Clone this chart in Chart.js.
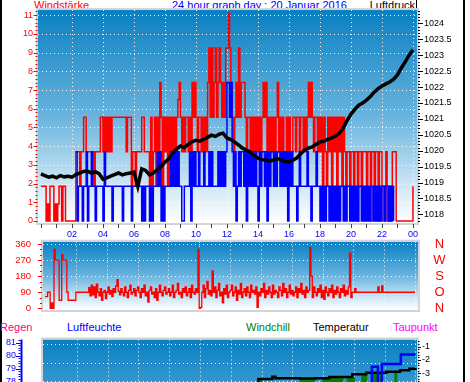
<!DOCTYPE html>
<html lang="de"><head><meta charset="utf-8">
<script src="https://cdn.jsdelivr.net/npm/chart.js@4/dist/chart.umd.js"></script>
<style>
html,body{margin:0;padding:0;background:#fff}
body{position:relative;width:470px;height:382px;overflow:hidden;font-family:"Liberation Sans",Arial,sans-serif}
canvas{position:absolute;left:0}
.t{position:absolute;font-size:11px;line-height:11px;white-space:nowrap}
.bar{position:absolute;background:#000}
</style></head>
<body>
<div class="bar" style="left:0;top:0;width:2px;height:382px"></div>
<div class="bar" style="left:463px;top:0;width:2px;height:382px"></div>
<div class="bar" style="left:416px;top:0;width:1px;height:10px"></div>
<div class="t" style="left:34px;top:0;color:#ff0000">Windstärke</div>
<div class="t" style="left:172px;top:0;color:#0000ff">24 hour graph day : 20 Januar 2016</div>
<div class="t" style="right:55px;top:0;color:#000">Luftdruck</div>
<div class="t" style="left:0;top:322px;color:#ff0080">Regen</div>
<div class="t" style="left:67px;top:322px;color:#0000ff">Luftfeuchte</div>
<div class="t" style="left:246px;top:322px;color:#008000">Windchill</div>
<div class="t" style="left:313px;top:322px;color:#000">Temperatur</div>
<div class="t" style="left:393px;top:322px;color:#ff00ff">Taupunkt</div>
<canvas id="c1" width="470" height="250" style="top:0"></canvas>
<canvas id="c2" width="470" height="100" style="top:230px"></canvas>
<canvas id="c3" width="470" height="220" style="top:320px"></canvas>
<script>
// ---------- tick labels ----------
const hourLabels = ['02','04','06','08','10','12','14','16','18','20','22','00'];
const hourLabelAt = [2,4,6,8,10,12,14,16,18,20,22,24];
const hourTicks = [0,1,2,3,4,5,6,7,8,9,10,11,12,13,14,15,16,17,18,19,20,21,22,23,24];
const windTicks = [0,1,2,3,4,5,6,7,8,9,10,11];
const pressureTicks = [1018,1018.5,1019,1019.5,1020,1020.5,1021,1021.5,1022,1022.5,1023,1023.5,1024];
const pressureLabels = ['1018','1018.5','1019','1019.5','1020','1020.5','1021','1021.5','1022','1022.5','1023','1023.5','1024'];
const dirTicks = [0,90,180,270,360];
const compassLabels = ['N','O','S','W','N'];
const humTicks = [78,79,80,81];
const tempTicks = [-3,-2,-1];

// ---------- series (5-minute samples, last value = 24:00) ----------
const windGust = [
1.85,1.85,1.85,1.85,0,0.9,0,1.85,1.85,1.85,0,0.9,
0,0.9,1.85,1.85,0,1.85,1.85,0,0,0,0,0,
0,0,0,3.7,3.7,3.7,1.85,3.7,3.7,5.55,5.55,3.7,
3.7,3.7,3.7,3.7,3.7,1.85,3.7,3.7,3.7,3.7,5.55,5.55,
3.7,5.55,3.7,5.55,3.7,5.55,3.7,5.55,5.55,5.55,5.55,5.55,
5.55,5.55,5.55,5.55,5.55,5.55,3.7,5.55,5.55,5.55,1.85,3.7,
3.7,1.85,3.7,3.7,3.7,3.7,5.55,5.55,3.7,3.7,3.7,3.7,
1.85,5.55,1.85,3.7,5.55,1.85,5.55,3.7,7.4,5.55,1.85,5.55,
3.7,5.55,1.85,5.55,3.7,5.55,1.85,5.55,3.7,5.55,6.5,7.4,
5.55,3.7,5.55,3.7,5.55,5.55,3.7,5.55,3.7,7.4,5.55,7.4,
5.55,3.7,5.55,5.55,3.7,5.55,3.7,5.55,3.7,7.4,9.25,5.55,
9.25,5.55,7.4,9.25,5.55,7.4,9.25,7.4,5.55,7.4,5.55,9.25,
9.25,11.1,9.25,7.4,5.55,3.7,5.55,7.4,5.55,9.25,5.55,7.4,
7.4,7.4,5.55,3.7,5.55,5.55,3.7,5.55,3.7,5.55,3.7,5.55,
3.7,5.55,3.7,5.55,7.4,5.55,7.4,3.7,5.55,3.7,5.55,3.7,
5.55,3.7,5.55,7.4,3.7,5.55,3.7,5.55,3.7,3.7,5.55,3.7,
5.55,3.7,3.7,5.55,5.55,3.7,5.55,5.55,3.7,5.55,5.55,3.7,
5.55,3.7,5.55,7.4,5.55,7.4,5.55,3.7,5.55,5.55,3.7,5.55,
3.7,5.55,1.85,5.55,3.7,1.85,5.55,3.7,5.55,1.85,5.55,3.7,
5.55,1.85,5.55,3.7,5.55,1.85,5.55,3.7,1.85,3.7,3.7,1.85,
3.7,3.7,1.85,3.7,3.7,0,3.7,3.7,1.85,3.7,3.7,3.7,
1.85,3.7,3.7,0,3.7,3.7,1.85,3.7,3.7,0,3.7,3.7,
1.85,0,1.85,3.7,0,1.85,0,1.85,3.7,3.7,3.7,0,
0,0,0,0,0,0,0,0,0,0,0,0,
1.85];

const windAvg = [
null,null,null,null,null,null,null,null,null,null,null,null,
null,null,null,null,null,null,null,null,null,null,null,null,
null,null,null,3.7,0,1.85,1.85,1.85,0,1.85,1.85,3.7,
0,1.85,1.85,3.7,1.85,1.85,0,1.85,1.85,1.85,1.85,1.85,
0,3.7,1.85,1.85,1.85,1.85,1.85,0,1.85,1.85,1.85,1.85,
1.85,1.85,1.85,0,1.85,1.85,1.85,1.85,1.85,1.85,0,1.85,
1.85,1.85,1.85,1.85,1.85,1.85,0,1.85,0,1.85,1.85,1.85,
0,1.85,0,1.85,1.85,1.85,3.7,1.85,3.7,0,1.85,0,
1.85,1.85,1.85,1.85,3.7,1.85,3.7,1.85,3.7,1.85,3.7,1.85,
1.85,0,0,1.85,1.85,1.85,1.85,3.7,0,3.7,1.85,3.7,
1.85,1.85,3.7,1.85,1.85,1.85,3.7,1.85,1.85,1.85,3.7,1.85,
3.7,1.85,1.85,1.85,1.85,3.7,1.85,3.7,1.85,3.7,1.85,3.7,
7.4,7.4,5.55,7.4,3.7,1.85,3.7,0,1.85,3.7,1.85,3.7,
3.7,1.85,3.7,0,3.7,1.85,3.7,1.85,3.7,1.85,3.7,1.85,
0,3.7,1.85,3.7,3.7,1.85,3.7,0,3.7,1.85,3.7,3.7,
1.85,3.7,1.85,3.7,3.7,1.85,3.7,1.85,3.7,1.85,3.7,0,
3.7,1.85,3.7,1.85,1.85,1.85,0,1.85,3.7,1.85,1.85,1.85,
1.85,1.85,3.7,1.85,1.85,0,1.85,1.85,1.85,3.7,1.85,1.85,
0,1.85,0,1.85,0,1.85,1.85,0,1.85,0,1.85,0,
1.85,0,1.85,0,1.85,1.85,0,1.85,0,1.85,1.85,0,
1.85,0,1.85,0,1.85,0,1.85,1.85,0,1.85,0,1.85,
0,1.85,0,1.85,1.85,0,1.85,0,1.85,0,1.85,0,
1.85,1.85,0,1.85,1.85,0,1.85,0,1.85,0,null,null,
null,null,null,null,null,null,null,null,null,null,null,null,
null];

const windDir = [
65,65,90,90,0,30,0,330,270,270,270,45,
45,300,270,270,270,90,45,45,45,45,45,45,
90,90,90,90,90,90,90,90,90,90,115,70,
130,75,120,60,135,90,70,110,45,90,100,55,
90,120,80,100,65,110,90,125,160,95,75,110,
90,70,120,90,60,100,130,80,90,110,70,100,
120,90,60,110,90,130,70,90,35,100,120,80,
90,60,110,45,90,130,90,70,100,120,80,90,
110,70,90,130,60,90,100,140,80,90,60,110,
90,120,70,90,110,60,130,90,80,110,90,330,
0,5,90,130,60,110,150,80,100,70,210,90,
120,60,100,140,70,90,30,110,80,130,60,90,
100,130,70,90,120,45,100,80,140,60,90,110,
70,120,90,60,130,90,100,80,120,5,90,70,
110,90,140,60,100,80,120,90,60,130,80,100,
90,60,120,100,70,140,90,110,60,90,130,80,
100,70,90,120,60,110,90,140,80,100,60,120,
90,100,340,180,60,120,90,70,110,90,130,60,
100,50,120,90,70,110,90,130,60,100,80,120,
90,60,110,90,130,70,100,80,120,310,60,90,
90,110,90,90,90,90,90,90,90,90,90,90,
90,90,90,90,90,90,90,120,90,90,125,90,
90,90,90,90,90,90,90,90,90,90,90,90,
90,90,90,90,90,90,90,90,90,90,90,90,
90];

// 15-minute samples
const pressure = [
1019.27,1019.22,1019.17,1019.2,
1019.15,1019.22,1019.18,1019.2,
1019.17,1019.25,1019.3,1019.35,
1019.36,1019.3,1019.34,1019.28,
1019.11,1019.15,1019.2,1019.25,
1019.3,1019.24,1019.28,1019.3,
1019.33,1018.88,1019.43,1019.38,
1019.24,1019.3,1019.4,1019.5,
1019.64,1019.75,1019.93,1020.05,
1020.15,1020.1,1020.2,1020.28,
1020.33,1020.3,1020.36,1020.42,
1020.49,1020.45,1020.52,1020.55,
1020.4,1020.35,1020.27,1020.18,
1020.08,1020.02,1019.96,1019.85,
1019.77,1019.72,1019.71,1019.68,
1019.71,1019.75,1019.71,1019.66,
1019.64,1019.7,1019.77,1019.9,
1020.02,1020.08,1020.12,1020.2,
1020.27,1020.3,1020.36,1020.4,
1020.46,1020.55,1020.71,1020.95,
1021.15,1021.3,1021.43,1021.5,
1021.59,1021.7,1021.84,1021.95,
1022.03,1022.1,1022.16,1022.25,
1022.38,1022.6,1022.79,1023.0,
1023.17];

// lower panel (irregular sample hours)
const tempHours  = [0,1,2,3,4,5,6,7,8,9,10,11,12,13,13.8,14.7,14.9,16.5,17.5,18.4,19.9,20.8,22.1,23,23.6,24];
const tempValues = [-4.3,-4.4,-4.4,-4.5,-4.5,-4.4,-4.4,-4.3,-4.2,-4.1,-4.0,-3.9,-3.8,-3.75,-3.43,-3.26,-3.38,-3.4,-3.38,-3.28,-3.08,-2.95,-2.88,-2.78,-2.65,-2.6];
const humHours   = [0,2,4,6,8,10,12,14,16,18,20,21.17,21.56,21.82,23.05,24];
const humValues  = [76.9,77.0,77.1,77.0,76.9,77.0,77.2,77.4,77.6,77.7,77.8,79.15,77.9,79.36,80.1,80.1];
const chillHours  = [0,13.9,14.03,16.49,17.47,17.99,19.29,19.55,20.06,20.52,20.84,21.17,21.56,21.69,21.82,22.66,22.79,24];
const chillValues = [-5.2,-3.5,-5.2,-3.45,-5.0,-3.38,-5.1,-3.35,-5.0,-3.15,-5.0,-3.02,-4.9,-3.02,-4.9,-2.95,-4.8,-4.8];
const dewHours  = [0,4,8,12,16,20,24];
const dewValues = [-7.6,-7.8,-7.6,-7.2,-7.0,-6.8,-6.3];

// ---------- helpers ----------
const perHour = (arr, n) => arr.map((v, i) => ({x: i / n, y: v}));
const pairs = (hs, vs) => hs.map((h, i) => ({x: h, y: vs[i]}));
const half = v => Math.round(v) + 0.5;
const TF = '"Liberation Sans", Arial, sans-serif';
const stops = [[0,'#0880c2'],[0.5,'#6ab4de'],[0.85,'#d6ebf7'],[1,'#ffffff']];

function drawAxis(chart, ax) {
  const ctx = chart.ctx, s = chart.scales[ax.scale];
  ctx.save();
  ctx.lineWidth = 1;
  if (ax.line) {
    ctx.strokeStyle = ax.line.color; ctx.lineWidth = ax.line.width;
    ctx.beginPath(); ctx.moveTo(ax.line.x, ax.line.y0); ctx.lineTo(ax.line.x, ax.line.y1); ctx.stroke();
    ctx.lineWidth = 1;
  }
  ctx.strokeStyle = ax.tickColor;
  const vert = ax.side !== 'bottom';
  const dir = ax.side === 'left' ? -1 : 1;
  const tick = (v, len) => {
    const p = half(s.getPixelForValue(v));
    ctx.beginPath();
    if (vert) { ctx.moveTo(ax.at, p); ctx.lineTo(ax.at + dir * len, p); }
    else { ctx.moveTo(p, ax.at); ctx.lineTo(p, ax.at + len); }
    ctx.stroke();
  };
  if (ax.minor) {
    const [from, to, step, len] = ax.minor;
    const n = Math.round((to - from) / step);
    for (let i = 0; i <= n; i++) tick(from + i * step, len);
  }
  (ax.ticks || []).forEach(v => tick(v, ax.majorLen));
  ctx.fillStyle = ax.color;
  ctx.font = ax.font;
  ctx.textBaseline = 'middle';
  ctx.textAlign = ax.align || (vert ? (dir < 0 ? 'right' : 'left') : 'center');
  ax.labels.forEach((t, i) => {
    const p = s.getPixelForValue(ax.labelAt[i]);
    if (vert) ctx.fillText(t, ax.labelX, p); else ctx.fillText(t, p, ax.labelY);
  });
  ctx.restore();
}

const deco = {
  id: 'deco',
  beforeDraw(chart, _a, o) {
    const {ctx, chartArea: a} = chart;
    ctx.save();
    const g = ctx.createLinearGradient(0, a.top, 0, a.bottom);
    o.stops.forEach(([p, c]) => g.addColorStop(p, c));
    ctx.fillStyle = g;
    ctx.fillRect(a.left, a.top, a.right - a.left, a.bottom - a.top);
    ctx.strokeStyle = '#d4d4d4'; ctx.lineWidth = 2;
    ctx.strokeRect(a.left - 1, a.top - 1, a.right - a.left + 2, a.bottom - a.top + 2);
    ctx.strokeStyle = 'rgba(255,255,255,0.95)'; ctx.lineWidth = 1; ctx.setLineDash([1, 3]);
    const sx = chart.scales.x, sy = chart.scales[o.gridAxis];
    ctx.beginPath();
    o.gridX.forEach(h => { const x = half(sx.getPixelForValue(h)); ctx.moveTo(x, a.top); ctx.lineTo(x, a.bottom); });
    o.gridY.forEach(v => { const y = half(sy.getPixelForValue(v)); ctx.moveTo(a.left, y); ctx.lineTo(a.right, y); });
    ctx.stroke();
    ctx.restore();
  },
  afterDraw(chart, _a, o) { (o.axes || []).forEach(ax => drawAxis(chart, ax)); }
};

const base = (padding, scales, decoOpts) => ({
  responsive: false, animation: false, devicePixelRatio: 1, events: [],
  layout: {padding},
  elements: {point: {radius: 0}, line: {tension: 0}},
  scales,
  plugins: {legend: {display: false}, tooltip: {enabled: false}, deco: decoOpts}
});

// ---------- chart 1: wind + pressure ----------
new Chart(document.getElementById('c1'), {
  type: 'line',
  plugins: [deco],
  data: {datasets: [
    {data: perHour(pressure, 4), yAxisID: 'p', borderColor: '#000', borderWidth: 3.5},
    {data: perHour(windAvg, 12), yAxisID: 'w', borderColor: '#0000ff', borderWidth: 1.5, stepped: true, spanGaps: false},
    {data: perHour(windGust, 12), yAxisID: 'w', borderColor: '#ff0000', borderWidth: 1.5, stepped: true}
  ]},
  options: base({left: 38, top: 10, right: 53, bottom: 27}, {
    x: {type: 'linear', min: -0.19, max: 24.26, display: false},
    w: {type: 'linear', position: 'left', min: -0.11, max: 11.28, display: false},
    p: {type: 'linear', position: 'right', min: 1017.73, max: 1024.42, display: false}
  }, {
    stops, gridAxis: 'w', gridX: hourLabelAt, gridY: windTicks,
    axes: [
      {scale: 'w', side: 'left', at: 37.5, majorLen: 4, minor: [0, 11.2, 0.2, 2], ticks: windTicks,
       tickColor: '#ff0000', color: '#ff0000', font: '9px ' + TF, labels: windTicks.map(String), labelAt: windTicks, labelX: 33},
      {scale: 'p', side: 'right', at: 418, majorLen: 5, minor: [1017.8, 1024.4, 0.1, 2], ticks: pressureTicks,
       tickColor: '#000', color: '#000', font: '9px ' + TF, labels: pressureLabels, labelAt: pressureTicks, labelX: 424},
      {scale: 'x', side: 'bottom', at: 224, majorLen: 4, ticks: hourTicks,
       tickColor: '#404040', color: '#0000ff', font: '9px ' + TF, labels: hourLabels, labelAt: hourLabelAt, labelY: 234.5}
    ]
  })
});

// ---------- chart 2: wind direction ----------
new Chart(document.getElementById('c2'), {
  type: 'line',
  plugins: [deco],
  data: {datasets: [
    {data: perHour(windDir, 12), yAxisID: 'd', borderColor: '#ff0000', borderWidth: 1.3, stepped: true}
  ]},
  options: base({left: 43, top: 11.7, right: 52, bottom: 20}, {
    x: {type: 'linear', min: -0.13, max: 24.19, display: false},
    d: {type: 'linear', min: -9.5, max: 372.9, display: false}
  }, {
    stops, gridAxis: 'd', gridX: hourLabelAt, gridY: dirTicks,
    axes: [
      {scale: 'd', side: 'left', at: 42, majorLen: 4, minor: [0, 360, 30, 2], ticks: dirTicks,
       tickColor: '#ff0000', color: '#ff0000', font: '9.5px ' + TF, labels: dirTicks.map(String), labelAt: dirTicks, labelX: 31},
      {scale: 'd', side: 'right', at: 420, majorLen: 0, ticks: [], align: 'center',
       tickColor: '#ff0000', color: '#ff0000', font: '13px ' + TF, labels: compassLabels, labelAt: dirTicks, labelX: 439.5}
    ]
  })
});

// ---------- chart 3: humidity / temperature ----------
new Chart(document.getElementById('c3'), {
  type: 'line',
  plugins: [deco],
  data: {datasets: [
    {data: pairs(humHours, humValues), yAxisID: 'h', borderColor: '#0000ff', borderWidth: 2.5, stepped: true},
    {data: pairs(tempHours, tempValues), yAxisID: 't', borderColor: '#000', borderWidth: 2.5, stepped: true},
    {data: pairs(dewHours, dewValues), yAxisID: 't', borderColor: '#ff00ff', borderWidth: 2, stepped: true},
    {data: pairs(chillHours, chillValues), yAxisID: 't', borderColor: '#008000', backgroundColor: '#008000', borderWidth: 1, stepped: true, fill: 'start'}
  ]},
  options: base({left: 43, top: 19.5, right: 53, bottom: 13.5}, {
    x: {type: 'linear', min: -0.195, max: 24.1, display: false},
    t: {type: 'linear', position: 'right', min: -14.52, max: -0.459, display: false},
    h: {type: 'linear', position: 'left', min: 66.86, max: 81.246, display: false},
    r: {type: 'linear', position: 'left', min: 0.24, max: 10.24, display: false}
  }, {
    stops, gridAxis: 'r', gridX: hourLabelAt, gridY: [8, 9, 10],
    axes: [
      {scale: 'h', side: 'left', at: 20.5, majorLen: 4.5, minor: [70, 81.2, 0.2, 2], ticks: humTicks,
       line: {x: 21.5, y0: 19.5, y1: 220, width: 2, color: '#0000ff'},
       tickColor: '#0000ff', color: '#0000ff', font: '9px ' + TF, labels: humTicks.map(String), labelAt: humTicks, labelX: 16},
      {scale: 't', side: 'right', at: 418, majorLen: 3, minor: [-14, -0.6, 0.2, 1.5], ticks: tempTicks,
       tickColor: '#000', color: '#000', font: '9px ' + TF, labels: tempTicks.map(String), labelAt: tempTicks, labelX: 422}
    ]
  })
});
</script>
</body></html>
